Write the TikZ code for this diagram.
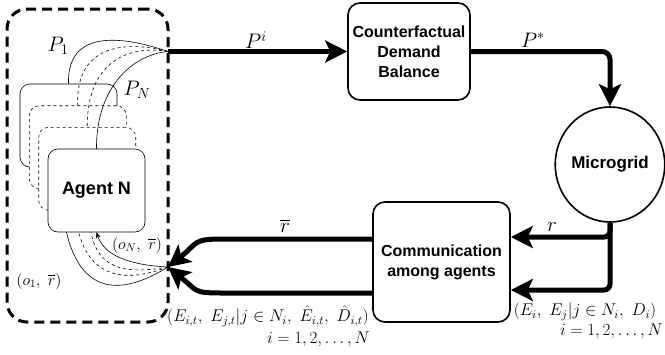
\RequirePackage{fix-cm}
\documentclass[tikz,border=0pt]{standalone}
\usepackage{amsmath}
\usepackage{fontspec}
\newfontfamily\blockfont{Liberation Sans}
\usetikzlibrary{arrows.meta,shapes.geometric}

\tikzset{
  block/.style={draw, line width=1.6pt, rounded corners=12pt, fill=white,
    align=center, inner sep=0pt,
    font=\blockfont\bfseries\fontsize{16}{20}\selectfont},
  agent/.style={draw, line width=0.6pt, rounded corners=10pt, fill=white,
    minimum width=97pt, minimum height=83pt, inner sep=0pt},
  flow/.style={line width=5pt, -{Stealth[length=22pt,width=22pt,inset=5pt]}},
  link/.style={line width=0.6pt},
  lbl/.style={inner sep=0pt, font=\fontsize{21}{24}\selectfont},
  elbl/.style={inner sep=0pt, font=\fontsize{17}{20}\selectfont},
  olbl/.style={inner sep=0pt, font=\fontsize{16}{18}\selectfont},
}

\begin{document}
\begin{tikzpicture}[x=1pt, y=-1pt]
\useasboundingbox (0,0) rectangle (665,354);

% --- AGENT GROUP ---
\node[draw, line width=3pt, dash pattern=on 10pt off 6pt, rounded corners=20pt,
  minimum width=161pt, minimum height=313pt] (team) at (87.5,165.5) {};
\coordinate (pout) at (168,51.5);
\coordinate (rin) at (168,267);

% agent 1 (back)
\node[agent] (agent1) at (68.5,125.5) {};
\draw[link] (pout) .. controls (120,35) and (67,30) .. (agent1.north);
\draw[link] (rin) .. controls (115,300) and (60,300) .. ([xshift=-8pt]agent1.south);
% agent 2
\node[agent, dashed] (agent2) at (77.8,147.2) {};
\draw[link, dashed] (pout) .. controls (125,40) and (75,45) .. (agent2.north);
\draw[link, dashed] (rin) .. controls (120,285) and (74,280) .. ([xshift=-4pt]agent2.south);
% agent 3
\node[agent, dashed] (agent3) at (87.2,168.8) {};
\draw[link, dashed] (pout) .. controls (130,45) and (87,60) .. (agent3.north);
\draw[link, dashed] (rin) .. controls (122,275) and (89,270) .. ([xshift=2pt]agent3.south);
% agent N (front)
\node[agent, font=\blockfont\bfseries\fontsize{18}{20}\selectfont] (agent4) at (96.5,190.5) {Agent N};
\draw[link] (pout) .. controls (130,55) and (96,90) .. (agent4.north);
\draw[link, -{Stealth[length=6pt,width=5pt]}] (rin) .. controls (128,265) and (104,255) .. (agent4.south);

\node[lbl] at (58,46) {$P_1$};
\node[lbl] at (137,90) {$P_N$};
\node[olbl] at (137,245) {$(o_N,\ \overline{r})$};
\node[olbl] at (39,281) {$(o_1,\ \overline{r})$};

% --- BLOCKS ---
\node[block, minimum width=122pt, minimum height=97pt] (cdb) at (409,51.5)
  {Counterfactual\\Demand\\Balance};
\node[block, ellipse, sharp corners, minimum width=104pt, minimum height=115pt,
  font=\blockfont\bfseries\fontsize{17}{20}\selectfont] (grid) at (610,164.5) {Microgrid};
\node[block, minimum width=137pt, minimum height=120pt] (comm) at (441.5,262)
  {Communication\\among agents};

% --- FLOWS ---
\coordinate (ry) at (0,237);
\coordinate (ey) at (0,290);
\coordinate (bary) at (0,239);
\coordinate (esty) at (0,293);

\draw[flow] (pout) -- (cdb.west);
\node[lbl] at (256,40) {$P^i$};
\draw[flow, rounded corners=8pt] (cdb.east) -| (grid.north);
\node[lbl] at (533,40) {$P^*$};

\draw[flow, rounded corners=6pt] (grid.south) |- (comm.east |- ry);
\draw[flow, rounded corners=6pt] (grid.south) |- (comm.east |- ey);
\node[lbl] at (552,227) {$r$};

\draw[flow] (comm.west |- bary) -- ++(-150,0) .. controls +(-30,0) and +(30,-24) .. (rin);
\draw[flow] (comm.west |- esty) -- ++(-150,0) .. controls +(-30,0) and +(30,24) .. (rin);
\node[lbl] at (285,226) {$\overline{r}$};

% --- MESSAGES ---
\node[elbl] at (268,316) {$(E_{i,t},\ E_{j,t}|j\in N_i,\ \hat{E}_{i,t},\ \hat{D}_{i,t})$};
\node[elbl, anchor=east] at (370,339) {$i=1,2,\ldots,N$};
\node[elbl] at (585,312) {$(E_i,\ E_j|j\in N_i,\ D_i)$};
\node[elbl, anchor=east] at (663,331) {$i=1,2,\ldots,N$};

\end{tikzpicture}
\end{document}
